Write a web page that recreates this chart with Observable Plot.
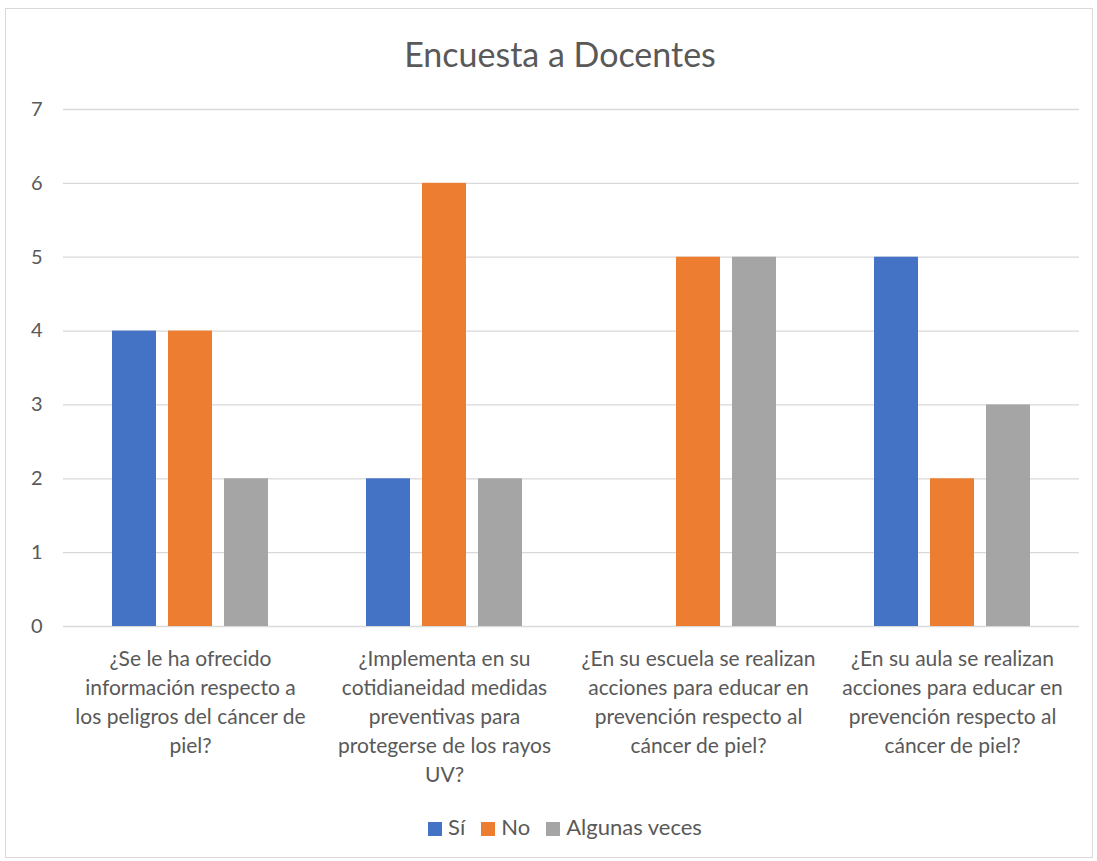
<!DOCTYPE html>
<html>
<head>
<meta charset="utf-8">
<script src="https://cdn.jsdelivr.net/npm/d3@7"></script>
<script src="https://cdn.jsdelivr.net/npm/@observablehq/plot@0.6"></script>
<style>
  body { margin: 0; background: #fff; font-family: Lato, "Open Sans", sans-serif; }
  #frame { position: absolute; left: 5px; top: 8px; width: 1086px; height: 848px; border: 1px solid #d9d9d9; background: #fff; }
  #title { position: absolute; left: 11px; width: 100%; top: 24px; text-align: center; font-size: 34px; color: #595959; }
  #chart { position: absolute; left: 0; top: 72px; }
  #legend { position: absolute; left: 16px; width: 100%; top: 804px; text-align: center; font-size: 22px; color: #595959; }
  #legend span.item { display: inline-block; margin: 0 8px; }
  #legend span.sw { display: inline-block; width: 14px; height: 14px; margin-right: 6px; vertical-align: -1px; }
</style>
</head>
<body>
<div id="frame">
  <div id="title">Encuesta a Docentes</div>
  <div id="chart"></div>
  <div id="legend"></div>
</div>
<script>
const questions = [
  "¿Se le ha ofrecido información respecto a los peligros del cáncer de piel?",
  "¿Implementa en su cotidianeidad medidas preventivas para protegerse de los rayos UV?",
  "¿En su escuela se realizan acciones para educar en prevención respecto al cáncer de piel?",
  "¿En su aula se realizan acciones para educar en prevención respecto al cáncer de piel?"
];
const questionLines = [
  "¿Se le ha ofrecido\ninformación respecto a\nlos peligros del cáncer de\npiel?",
  "¿Implementa en su\ncotidianeidad medidas\npreventivas para\nprotegerse de los rayos\nUV?",
  "¿En su escuela se realizan\nacciones para educar en\nprevención respecto al\ncáncer de piel?",
  "¿En su aula se realizan\nacciones para educar en\nprevención respecto al\ncáncer de piel?"
];
const series = ["Sí", "No", "Algunas veces"];
const colors = ["#4472C4", "#ED7D31", "#A5A5A5"];
const si = [4, 2, 0, 5];
const no = [4, 6, 5, 2];
const algunas = [2, 2, 5, 3];
const yTicks = [0, 1, 2, 3, 4, 5, 6, 7];

const values = [si, no, algunas];
const data = [];
questions.forEach((q, i) => {
  series.forEach((s, j) => data.push({question: q, series: s, value: values[j][i]}));
});
const lineOf = new Map(questions.map((q, i) => [q, questionLines[i]]));

const chart = Plot.plot({
  width: 1086,
  height: 720,
  marginLeft: 56,
  marginRight: 12,
  marginTop: 28,
  marginBottom: 175,
  style: {fontFamily: "Lato, 'Open Sans', sans-serif", color: "#595959", background: "transparent"},
  fx: {domain: questions, padding: 0, label: null},
  x: {domain: series, paddingInner: 0.22, paddingOuter: 0.862, axis: null},
  y: {domain: [0, 7], label: null},
  color: {domain: series, range: colors},
  marks: [
    Plot.ruleY(yTicks, {stroke: "#d9d9d9", strokeWidth: 1.3}),
    Plot.barY(data, {fx: "question", x: "series", y: "value", fill: "series"}),
    Plot.axisY({ticks: yTicks, tickSize: 0, tickPadding: 21, fontSize: 20, label: null, tickFormat: d => d}),
    Plot.axisFx({anchor: "bottom", tickSize: 0, tickPadding: 19, fontSize: 21, lineHeight: 1.38, label: null, tickFormat: d => lineOf.get(d)})
  ]
});
document.getElementById("chart").appendChild(chart);

const legend = document.getElementById("legend");
series.forEach((s, j) => {
  const item = document.createElement("span");
  item.className = "item";
  const sw = document.createElement("span");
  sw.className = "sw";
  sw.style.background = colors[j];
  item.appendChild(sw);
  item.appendChild(document.createTextNode(s));
  legend.appendChild(item);
});
</script>
</body>
</html>
